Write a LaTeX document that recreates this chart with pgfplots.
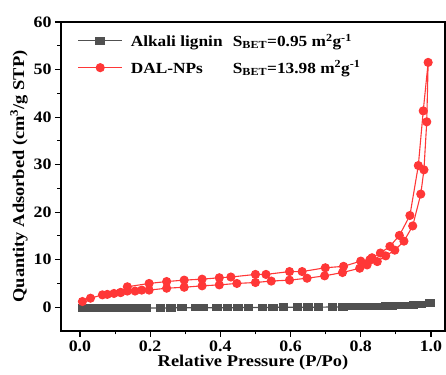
\documentclass[border=0pt]{standalone}
\usepackage{fontspec}
\setmainfont{Liberation Serif}[FakeStretch=1.12]
\usepackage{pgfplots}
\pgfplotsset{compat=1.18}
\definecolor{redc}{RGB}{255,55,55}
\definecolor{grayc}{RGB}{80,80,80}
\begin{document}
\begin{tikzpicture}
\begin{axis}[
  scale only axis,
  width=384bp, height=309bp,
  xmin=-0.054, xmax=1.04,
  ymin=-5, ymax=60,
  axis line style={line width=1.3bp},
  xtick={0,0.2,...,1.0},
  ytick={0,10,...,60},
  minor x tick num=1,
  minor y tick num=1,
  tick align=outside,
  xtick pos=bottom, ytick pos=left,
  major tick length=6bp, minor tick length=3.5bp,
  every tick/.style={line width=1.1bp, black},
  /pgf/number format/assume math mode=true,
  xticklabel style={/pgf/number format/.cd, fixed, fixed zerofill, precision=1},
  ticklabel style={font=\fontsize{16}{18}\selectfont\bfseries},
  xlabel={\textbf{Relative Pressure (P/Po)}},
  ylabel={\textbf{Quantity Adsorbed (cm\textsuperscript{3}/g STP)}},
  label style={font=\fontsize{16.5}{18}\selectfont},
  xlabel style={yshift=3bp},
  ylabel style={yshift=-1bp},
  legend style={draw=none, fill=none, at={(0.035,0.975)}, anchor=north west,
    font=\fontsize{15.5}{17}\selectfont\bfseries, row sep=9bp,
    cells={anchor=west}, nodes={inner xsep=8bp}},
  legend image code/.code={\draw[mark repeat=2,mark phase=2,#1] plot coordinates {(0bp,0bp)(22bp,0bp)(44bp,0bp)};},
  clip=false,
]
\addplot[color=grayc, line width=1.2bp, mark=square*, mark size=3.5bp, mark options={solid, xscale=1.2, yscale=0.9}] coordinates {
(0.007,-0.2)(0.03,-0.2)(0.05,-0.2)(0.07,-0.2)(0.09,-0.2)(0.11,-0.2)(0.13,-0.2)(0.15,-0.2)(0.17,-0.2)(0.19,-0.15)
(0.23,-0.15)(0.26,-0.15)(0.29,-0.1)(0.33,-0.1)(0.35,-0.1)(0.39,-0.1)(0.42,-0.1)(0.45,-0.1)(0.48,-0.05)(0.52,-0.05)
(0.55,-0.05)(0.58,0)(0.62,0)(0.65,0)(0.68,0)(0.72,0.05)(0.75,0.05)(0.77,0.1)(0.79,0.1)(0.81,0.15)(0.83,0.15)
(0.85,0.2)(0.87,0.25)(0.89,0.3)(0.91,0.35)(0.93,0.4)(0.95,0.45)(0.973,0.6)(0.997,0.9)
};
\addlegendentry{\makebox[102bp][l]{Alkali lignin}S\textsubscript{BET}=0.95 m\textsuperscript{2}g\textsuperscript{-1}}
\addplot[color=redc, line width=1.1bp, mark=*, mark size=4bp, mark options={solid}] coordinates {
(0.007,1.2)(0.03,1.9)(0.064,2.6)(0.078,2.7)(0.097,2.9)(0.116,3.1)(0.135,3.4)(0.157,3.4)(0.176,3.6)(0.197,3.6)
(0.247,4.0)(0.297,4.2)(0.348,4.5)(0.397,4.7)(0.447,5.0)(0.5,5.2)(0.545,5.5)(0.597,5.7)(0.647,6.1)(0.697,6.6)
(0.748,7.3)(0.797,8.2)(0.818,8.9)(0.847,9.6)(0.871,10.8)(0.897,12.0)(0.923,13.9)(0.948,17.1)(0.971,23.8)(0.98,28.9)
(0.988,39.0)(0.992,51.5)
(0.978,41.3)(0.964,29.8)(0.94,19.3)(0.91,15.1)(0.883,12.8)(0.856,11.4)(0.832,10.4)(0.826,10.0)(0.8,9.7)(0.751,8.6)
(0.699,8.3)(0.633,7.5)(0.597,7.5)(0.53,6.9)(0.5,6.9)(0.43,6.35)(0.397,6.2)(0.348,5.9)(0.297,5.7)(0.247,5.4)
(0.197,5.0)(0.135,4.3)(0.116,3.1)
};
\addlegendentry{\makebox[102bp][l]{DAL-NPs}S\textsubscript{BET}=13.98 m\textsuperscript{2}g\textsuperscript{-1}}
\coordinate (ll) at (rel axis cs:0,0);
\coordinate (ur) at (rel axis cs:1,1);
\end{axis}
\pgfresetboundingbox
\useasboundingbox ([xshift=-61bp,yshift=-44bp]ll) rectangle ([xshift=1bp,yshift=22bp]ur);
\end{tikzpicture}
\end{document}
